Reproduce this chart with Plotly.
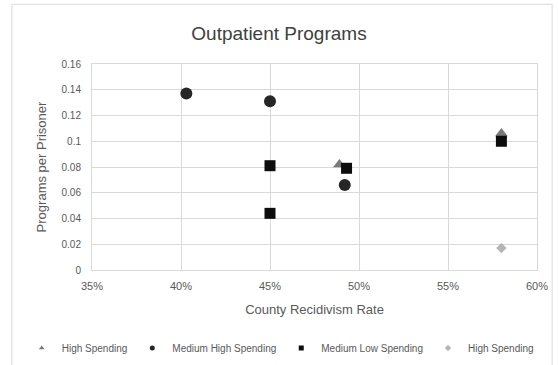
import plotly.graph_objects as go

# Data (x = county recidivism rate, y = programs per prisoner)
high_x = [0.489, 0.580]
high_y = [0.082, 0.106]
medhigh_x = [0.403, 0.450, 0.492]
medhigh_y = [0.137, 0.131, 0.066]
medlow_x = [0.450, 0.450, 0.493, 0.580]
medlow_y = [0.081, 0.044, 0.079, 0.100]
high2_x = [0.580]
high2_y = [0.017]

series_names = ["High Spending", "Medium High Spending", "Medium Low Spending", "High Spending"]

x_ticks = [0.35, 0.40, 0.45, 0.50, 0.55, 0.60]
x_tick_labels = ["35%", "40%", "45%", "50%", "55%", "60%"]
y_ticks = [0, 0.02, 0.04, 0.06, 0.08, 0.1, 0.12, 0.14, 0.16]
y_tick_labels = ["0", "0.02", "0.04", "0.06", "0.08", "0.1", "0.12", "0.14", "0.16"]

FONT = "Liberation Sans, Arial, sans-serif"

styles = [
    dict(symbol="triangle-up", size=11, color="#7a7a7a"),
    dict(symbol="circle", size=12, color="#262626"),
    dict(symbol="square", size=11, color="#0d0d0d"),
    dict(symbol="diamond", size=8, color="#b5b5b5"),
]
data = [(high_x, high_y), (medhigh_x, medhigh_y), (medlow_x, medlow_y), (high2_x, high2_y)]

fig = go.Figure()
for i, ((xs, ys), st, nm) in enumerate(zip(data, styles, series_names)):
    fig.add_trace(go.Scatter(x=xs, y=ys, mode="markers", name=nm, legendgroup=f"g{i}",
                             showlegend=False, marker=st))
# legend entries with small markers, like the original
for i, (st, nm) in enumerate(zip(styles, series_names)):
    small = dict(st)
    small["size"] = 5
    fig.add_trace(go.Scatter(x=[None], y=[None], mode="markers", name=nm, legendgroup=f"g{i}",
                             showlegend=True, marker=small))

fig.update_layout(
    width=558, height=365,
    margin=dict(l=92, r=21, t=64, b=95, autoexpand=False),
    paper_bgcolor="white", plot_bgcolor="white",
    font=dict(family=FONT, color="#595959"),
    title=dict(text="Outpatient Programs", x=0.5, xanchor="center", y=0.91, yanchor="middle",
               font=dict(size=19, color="#404040", family=FONT)),
    xaxis=dict(range=[0.35, 0.60], tickvals=x_ticks, ticktext=x_tick_labels,
               showgrid=True, gridcolor="#d9d9d9", gridwidth=1, zeroline=False,
               showline=True, linecolor="#d9d9d9", mirror=True,
               ticks="", ticklabelstandoff=6, tickfont=dict(size=11, color="#595959"),
               title=dict(text="County Recidivism Rate", font=dict(size=13, color="#595959"), standoff=13)),
    yaxis=dict(range=[0, 0.16], tickvals=y_ticks, ticktext=y_tick_labels,
               showgrid=True, gridcolor="#d9d9d9", gridwidth=1, zeroline=False,
               showline=True, linecolor="#d9d9d9", mirror=True,
               ticks="", ticklabelstandoff=8, tickfont=dict(size=10, color="#595959"),
               title=dict(text="Programs per Prisoner", font=dict(size=13, color="#595959"), standoff=11)),
    legend=dict(orientation="h", x=-0.158, xanchor="left", y=-0.379, yanchor="middle",
                font=dict(size=10, color="#595959"), itemwidth=30,
                tracegroupgap=0, itemsizing="trace", bgcolor="rgba(0,0,0,0)"),
    showlegend=True,
)
# outer chart border
fig.add_shape(type="rect", xref="paper", yref="paper",
              x0=-0.18, x1=1.034, y0=-0.47, y1=1.29,
              line=dict(color="#d9d9d9", width=1), layer="below")
fig.write_html("out.html")
